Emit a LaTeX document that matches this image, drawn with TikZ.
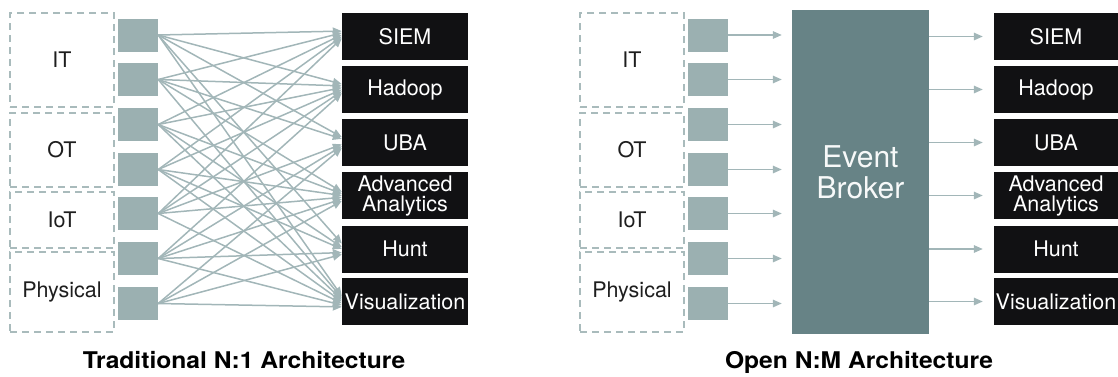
\documentclass[tikz,border=0pt]{standalone}
\usepackage{fontspec}
\usepackage{graphicx}
\setmainfont{TeX Gyre Heros}
\usetikzlibrary{arrows.meta}

\definecolor{srcfill}{HTML}{9BB0B1}
\definecolor{sinkfill}{HTML}{111113}
\definecolor{brokerfill}{HTML}{678386}
\definecolor{linkc}{HTML}{A2B6B8}
\definecolor{dashc}{HTML}{A9BBBC}
\definecolor{labtext}{HTML}{1E1E1E}

\newcommand\labfont{\fontsize{21.5}{21}\selectfont}
\newcommand\brokerfont{\fontsize{30}{31}\selectfont}
\newcommand\headfont{\fontsize{23}{23}\selectfont\bfseries}

\begin{document}
\begin{tikzpicture}[x=1pt,y=-1pt,
  groupbox/.style={draw=dashc, dash pattern=on 7pt off 5pt, line width=1.3pt,
    minimum width=104pt, inner sep=0pt, font=\labfont, text=labtext},
  srcbox/.style={fill=srcfill, minimum width=40pt, minimum height=33pt, inner sep=0pt},
  sinkbox/.style={fill=sinkfill, text=white, minimum height=47pt, inner sep=0pt,
    align=center, font=\labfont},
  brokerbox/.style={fill=brokerfill, text=white!95!brokerfill, minimum width=137pt,
    minimum height=324pt, inner sep=0pt, align=center, font=\brokerfont},
  link/.style={draw=linkc, line width=1.5pt, -{Triangle[length=9pt,width=7.5pt]}},
  headline/.style={anchor=base, inner sep=0pt, font=\headfont, text=black}
]
\useasboundingbox (0,0) rectangle (1118,376);

% ---------- Traditional N:1 ----------
\node[groupbox, minimum height=94pt] (gIT)  at (62,60)  {IT};
\node[groupbox, minimum height=74pt] (gOT)  at (62,150) {OT};
\node[groupbox, minimum height=56pt] (gIoT) at (62,220) {IoT};
\node[groupbox, minimum height=80pt] (gPh)  at (62,292) {Physical};

\foreach \i/\yy in {1/35,2/79.5,3/124.5,4/169.5,5/213.5,6/258.5,7/303.5}
  \node[srcbox] (sL\i) at (138,\yy) {};

\node[sinkbox, minimum width=126pt] (tL1) at (405,36.5)  {SIEM};
\node[sinkbox, minimum width=126pt] (tL2) at (405,89.5)  {Hadoop};
\node[sinkbox, minimum width=126pt] (tL3) at (405,142.5) {UBA};
\node[sinkbox, minimum width=126pt] (tL4) at (405,195.5) {Advanced\\[-1pt]Analytics};
\node[sinkbox, minimum width=126pt] (tL5) at (405,249)   {Hunt};
\node[sinkbox, minimum width=126pt] (tL6) at (405,301.5) {Visualization};

% every source wired straight into several tools
\foreach \i/\targets in {1/{1,2,3,5,6}, 2/{1,2,3,4,6}, 3/{1,2,4,5,6},
                         4/{1,2,4,5,6}, 5/{1,2,3,4,6}, 6/{2,3,4,5,6}, 7/{3,4,5,6}} {
  \pgfmathsetmacro\off{(4-\i)*1.8}
  \foreach \j in \targets
    \draw[link] (sL\i.east) -- ([yshift=\off pt]tL\j.west);
}

\node[headline] (hL) at (244,368) {\scalebox{1.07}[1]{Traditional N:1 Architecture}};

% ---------- Open N:M ----------
\node[groupbox, minimum height=94pt] (hIT)  at (632,60)  {IT};
\node[groupbox, minimum height=74pt] (hOT)  at (632,150) {OT};
\node[groupbox, minimum height=56pt] (hIoT) at (632,220) {IoT};
\node[groupbox, minimum height=80pt] (hPh)  at (632,292) {Physical};

\node[brokerbox] (bk) at (860.5,172) {Event\\Broker};

\foreach \i/\yy in {1/35,2/79.5,3/124.5,4/169.5,5/213.5,6/258.5,7/303.5} {
  \node[srcbox] (sR\i) at (708,\yy) {};
  \draw[link] (sR\i.east) -- ([xshift=-10pt]sR\i.east -| bk.west);
}

\node[sinkbox, minimum width=124pt] (tR1) at (1056,36.5)  {SIEM};
\node[sinkbox, minimum width=124pt] (tR2) at (1056,89.5)  {Hadoop};
\node[sinkbox, minimum width=124pt] (tR3) at (1056,142.5) {UBA};
\node[sinkbox, minimum width=124pt] (tR4) at (1056,195.5) {Advanced\\[-1pt]Analytics};
\node[sinkbox, minimum width=124pt] (tR5) at (1056,249)   {Hunt};
\node[sinkbox, minimum width=124pt] (tR6) at (1056,301.5) {Visualization};

\foreach \j in {1,...,6}
  \draw[link] (bk.east |- tR\j.west) -- ([xshift=-11pt]tR\j.west);

\node[headline] (hR) at (859,368) {\scalebox{1.07}[1]{Open N:M Architecture}};
\end{tikzpicture}
\end{document}
